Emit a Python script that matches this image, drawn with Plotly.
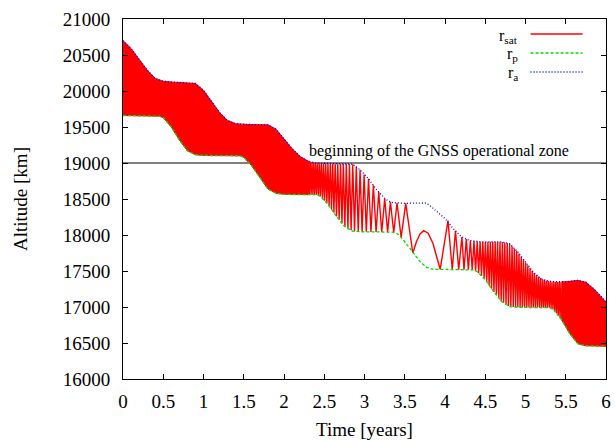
import numpy as np
import plotly.graph_objects as go

# ---------------- data ----------------
# apogee envelope r_a
ra_t = [0.00, 0.10, 0.20, 0.30, 0.40, 0.50, 0.60, 0.75, 0.90, 1.00, 1.10, 1.20, 1.30, 1.40,
        1.55, 1.80, 1.90, 2.00, 2.10, 2.20, 2.30, 2.40, 2.60, 2.85, 2.95, 3.05, 3.15, 3.20,
        3.25, 3.30, 3.35, 3.50, 3.65, 3.75, 3.80, 3.90, 4.00, 4.10, 4.20, 4.30, 4.45, 4.70,
        4.80, 4.90, 5.00, 5.10, 5.20, 5.30, 5.45, 5.50, 5.65, 5.75, 5.85, 5.95, 6.00]
ra_alt = [20700, 20590, 20440, 20290, 20175, 20135, 20125, 20120, 20105, 20010, 19850, 19700,
          19590, 19545, 19535, 19530, 19470, 19340, 19200, 19090, 19025, 19000, 18995, 18985,
          18900, 18780, 18630, 18570, 18510, 18470, 18450, 18440, 18445, 18445, 18420, 18330,
          18230, 18090, 17980, 17925, 17905, 17905, 17880, 17770, 17620, 17480, 17390, 17355,
          17351, 17350, 17370, 17345, 17250, 17120, 17070]

# perigee envelope r_p
rp_t = [0.00, 0.45, 0.50, 0.60, 0.70, 0.80, 0.90, 1.00, 1.45, 1.50, 1.60, 1.70, 1.80, 1.90,
        2.00, 2.30, 2.40, 2.45, 2.55, 2.65, 2.75, 2.85, 2.95, 3.35, 3.42, 3.48, 3.56, 3.62,
        3.69, 3.77, 3.85, 4.35, 4.40, 4.50, 4.60, 4.70, 4.80, 4.90, 5.30, 5.35, 5.45, 5.55,
        5.65, 5.75, 6.00]
rp_alt = [19660, 19650, 19630, 19500, 19320, 19170, 19115, 19105, 19100, 19080, 18960, 18800,
          18640, 18580, 18565, 18560, 18560, 18540, 18420, 18260, 18120, 18055, 18045, 18040,
          18010, 17935, 17815, 17722, 17630, 17551, 17525, 17515, 17490, 17380, 17220, 17080,
          17005, 16995, 16990, 16960, 16820, 16630, 16490, 16462, 16455]

# satellite radius r_sat: visible turning points where the sampled orbit is resolved
sat_t = [2.295, 2.305, 2.315, 2.326, 2.337, 2.348, 2.359, 2.370, 2.381, 2.393, 2.404, 2.416,
         2.428, 2.440, 2.452, 2.465, 2.478, 2.491, 2.504, 2.518, 2.532, 2.546, 2.560, 2.575,
         2.590, 2.605, 2.620, 2.636, 2.652, 2.668, 2.685, 2.702, 2.720, 2.737, 2.756, 2.774,
         2.794, 2.813, 2.834, 2.854, 2.876, 2.898, 2.922, 2.945, 2.970, 2.995, 3.022, 3.050,
         3.080, 3.110, 3.144, 3.177, 3.214, 3.251, 3.287, 3.322, 3.363, 3.404, 3.455, 3.512,
         3.600, 3.645, 3.690, 3.735, 3.790, 3.850, 3.890, 3.940, 4.037, 4.090, 4.130, 4.170,
         4.210, 4.236, 4.265, 4.290, 4.315, 4.338, 4.360, 4.380, 4.400, 4.418, 4.436, 4.453,
         4.470, 4.486, 4.502, 4.518, 4.533, 4.548, 4.563, 4.578, 4.593, 4.608, 4.623, 4.638,
         4.653, 4.668, 4.683, 4.698, 4.713, 4.728, 4.743, 4.758, 4.773, 4.788, 4.803, 4.818,
         4.833, 4.848, 4.862, 4.877, 4.891, 4.905, 4.919, 4.933, 4.947, 4.961, 4.975, 4.989,
         5.002, 5.016, 5.029, 5.043, 5.056, 5.070, 5.083, 5.096, 5.109, 5.122, 5.135, 5.148,
         5.161, 5.174, 5.186, 5.199, 5.211, 5.223, 5.235, 5.247, 5.259, 5.271, 5.283, 5.295,
         5.306, 5.318, 5.329, 5.341, 5.352, 5.364, 5.375, 5.386, 5.397, 5.408, 5.419, 5.430,
         5.441, 5.452]
sat_alt = [18560, 19030, 18560, 19018, 18560, 19012, 18560, 19007, 18560, 19002, 18560, 19000,
           18552, 18998, 18535, 18997, 18507, 18996, 18475, 18995, 18442, 18995, 18404, 18994,
           18356, 18994, 18308, 18993, 18257, 18992, 18211, 18991, 18162, 18990, 18116, 18988,
           18091, 18987, 18065, 18983, 18053, 18950, 18048, 18905, 18045, 18840, 18044, 18780,
           18043, 18690, 18042, 18595, 18041, 18505, 18040, 18462, 18035, 18445, 17966, 18440,
           17750, 17907, 18014, 18060, 18024, 17885, 17722, 17524, 18199, 17520, 18057, 17518,
           17972, 17518, 17945, 17517, 17922, 17515, 17915, 17500, 17910, 17470, 17906, 17432,
           17905, 17395, 17905, 17351, 17905, 17303, 17905, 17255, 17905, 17209, 17905, 17167,
           17905, 17125, 17905, 17083, 17902, 17059, 17897, 17037, 17890, 17014, 17877, 17003,
           17844, 17000, 17812, 16998, 17780, 16995, 17742, 16995, 17700, 16994, 17658, 16994,
           17617, 16993, 17580, 16993, 17542, 16993, 17504, 16992, 17472, 16992, 17449, 16992,
           17425, 16991, 17403, 16991, 17386, 16991, 17378, 16991, 17369, 16990, 17361, 16990,
           17355, 16979, 17354, 16965, 17353, 16940, 17352, 16910, 17352, 16879, 17351, 16848,
           17351, 16817]

# where the sampled orbit is too dense to resolve (appears as a solid band)
solid_until = 2.30
solid_from = 5.45

gnss_alt = 19000
gnss_label = "beginning of the GNSS operational zone"

x_ticks = [0, 0.5, 1, 1.5, 2, 2.5, 3, 3.5, 4, 4.5, 5, 5.5, 6]
y_ticks = [16000, 16500, 17000, 17500, 18000, 18500, 19000, 19500, 20000, 20500, 21000]

# ---------------- figure ----------------
FONT = "Liberation Serif"
RED, GREEN, BLUE = "#ff0000", "#00dd00", "#0000ff"

ra_t_a, ra_alt_a = np.array(ra_t), np.array(ra_alt)
rp_t_a, rp_alt_a = np.array(rp_t), np.array(rp_alt)

fig = go.Figure()

# GNSS zone boundary
fig.add_trace(go.Scatter(x=[x_ticks[0], x_ticks[-1]], y=[gnss_alt, gnss_alt], mode="lines",
                         line=dict(color="black", width=1), showlegend=False, hoverinfo="skip"))

# r_sat solid bands (unresolved oscillation fills the band between r_p and r_a)
for sel_a, sel_p in [((ra_t_a <= solid_until), (rp_t_a <= solid_until)),
                     ((ra_t_a >= solid_from), (rp_t_a >= solid_from))]:
    xs = list(ra_t_a[sel_a]) + list(rp_t_a[sel_p][::-1])
    ys = list(ra_alt_a[sel_a]) + list(rp_alt_a[sel_p][::-1])
    fig.add_trace(go.Scatter(x=xs, y=ys, mode="lines", fill="toself", fillcolor=RED,
                             line=dict(color=RED, width=1), showlegend=False, hoverinfo="skip"))

# r_sat resolved oscillation
fig.add_trace(go.Scatter(x=sat_t, y=sat_alt, mode="lines",
                         line=dict(color=RED, width=1.4), showlegend=False))

# envelopes
fig.add_trace(go.Scatter(x=rp_t, y=rp_alt, mode="lines",
                         line=dict(color=GREEN, width=1.3, dash="3px,2px"), showlegend=False))
fig.add_trace(go.Scatter(x=ra_t, y=ra_alt, mode="lines",
                         line=dict(color=BLUE, width=1.3, dash="1px,2px"), showlegend=False))

# label for the GNSS zone
fig.add_annotation(x=3.92, y=gnss_alt, yshift=12, text=gnss_label, showarrow=False,
                   font=dict(family=FONT, size=16, color="black"), xanchor="center",
                   yanchor="middle")

# custom gnuplot-style key (text right-aligned, sample to the right)
key = [("r<sub>sat</sub>", RED, "solid", 0.9583),
       ("r<sub>p</sub>", GREEN, "3px,2px", 0.9056),
       ("r<sub>a</sub>", BLUE, "1px,2px", 0.8528)]
for txt, col, dash, yp in key:
    fig.add_annotation(x=0.819, y=yp, xref="paper", yref="paper", text=txt, showarrow=False,
                       xanchor="right", yanchor="middle", yshift=-2, borderpad=0,
                       font=dict(family=FONT, size=16, color="black"))
    fig.add_shape(type="line", xref="paper", yref="paper", x0=0.8438, x1=0.9514, y0=yp, y1=yp,
                  line=dict(color=col, width=1.3, dash=dash))

axis_common = dict(showgrid=False, zeroline=False, showline=True, linecolor="black",
                   linewidth=1, mirror="allticks", ticks="inside", ticklen=5,
                   tickcolor="black", tickwidth=1, automargin=False,
                   tickfont=dict(family=FONT, size=19, color="black"))

fig.update_xaxes(range=[0, 6], tickvals=x_ticks, ticktext=[f"{v:g}" for v in x_ticks],
                 title=dict(text="Time [years]", font=dict(family=FONT, size=19, color="black"),
                            standoff=13),
                 ticklabelstandoff=5, **axis_common)
fig.update_yaxes(range=[16000, 21000], tickvals=y_ticks, ticktext=[str(v) for v in y_ticks],
                 title=dict(text="Altitude [km]", font=dict(family=FONT, size=19, color="black"),
                            standoff=30),
                 ticklabelstandoff=8, **axis_common)

fig.update_layout(width=615, height=440, margin=dict(l=123, r=9, t=19, b=61),
                  paper_bgcolor="white", plot_bgcolor="white", showlegend=False)

fig.write_html("out.html")
